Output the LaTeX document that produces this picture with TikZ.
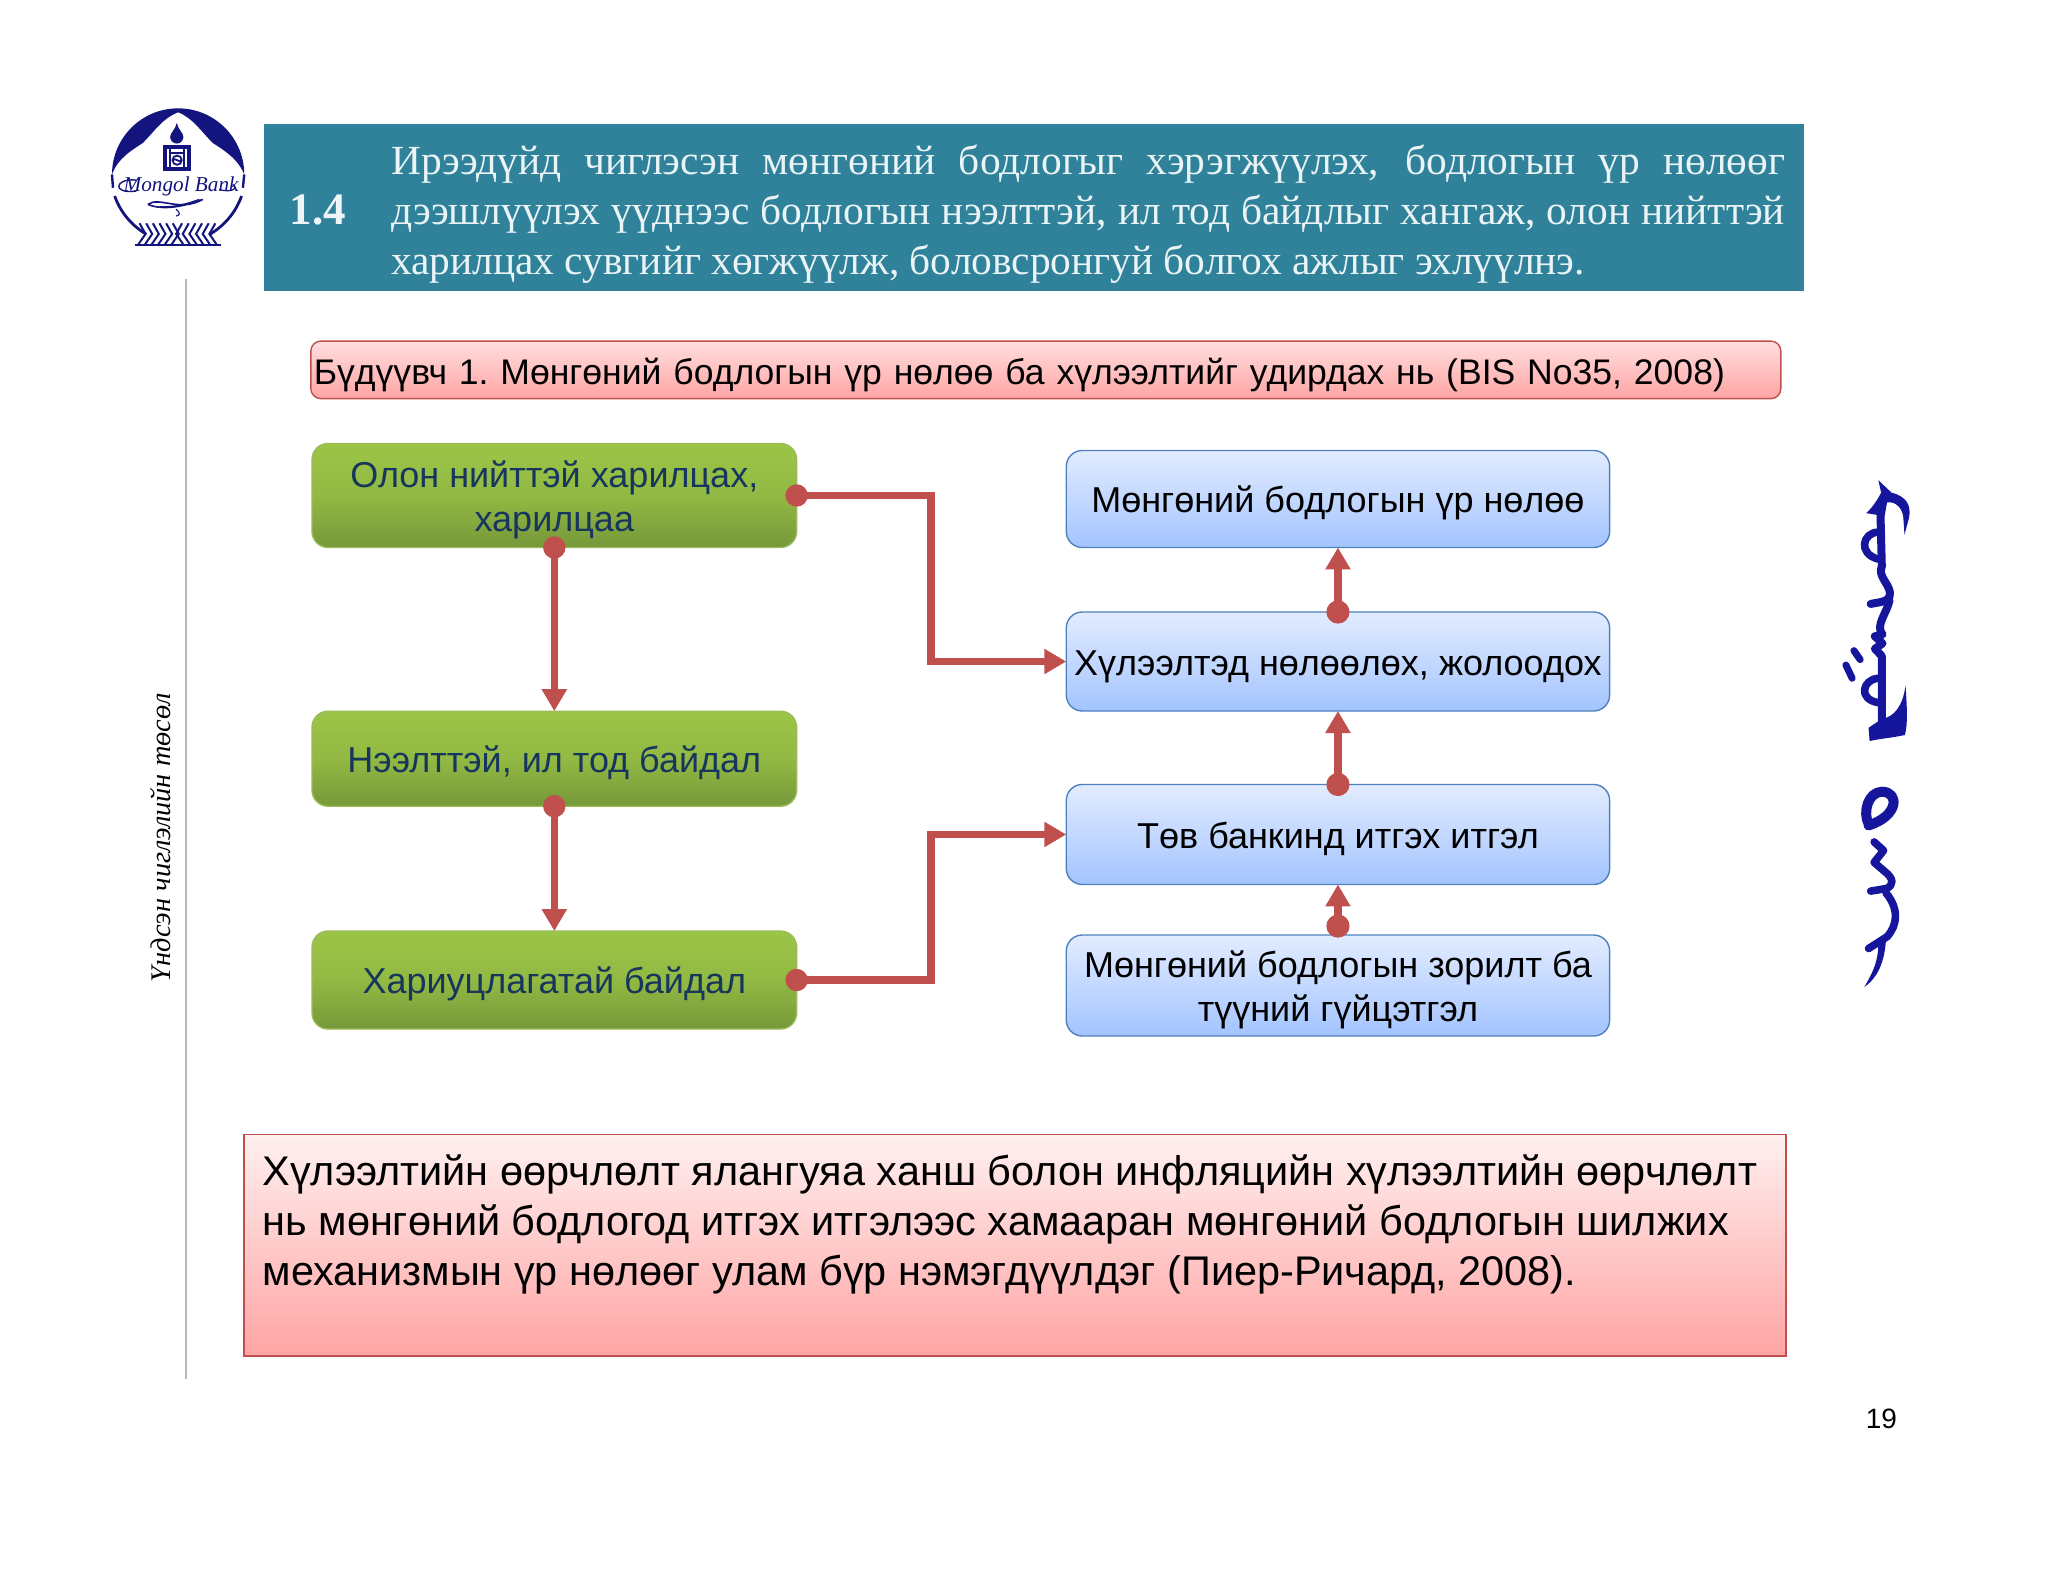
\documentclass[tikz,border=0pt]{standalone}
\usepackage{fontspec}
\setmainfont{Liberation Serif}
\newfontfamily\sansf{Liberation Sans}
\usetikzlibrary{arrows.meta,calc}
\definecolor{teal1}{HTML}{2F8299}
\definecolor{redl}{HTML}{C0504D}
\definecolor{navy1}{HTML}{14147E}
\definecolor{mscript}{HTML}{16169C}
\definecolor{gtext}{HTML}{17365D}
\definecolor{gtop}{HTML}{9BC547}
\definecolor{gmid}{HTML}{92B943}
\definecolor{gbot}{HTML}{76983A}
\definecolor{gline}{HTML}{9BBB59}
\definecolor{bline}{HTML}{4F81BD}
\definecolor{btop}{HTML}{E2ECFF}
\definecolor{bbot}{HTML}{A3C4FF}
\definecolor{ptop}{HTML}{FFF0F0}
\definecolor{ctop}{HTML}{FFDEDE}
\definecolor{pbot}{HTML}{FFA4A4}
\newcommand\twolinetext[3]{\raisebox{-2.4pt}[\height][\depth]{\parbox{#1}{\centering #2\\#3}}}
\tikzset{
  boxtext/.style={font=\sansf\fontsize{18}{22}\selectfont},
  oneline/.style={execute at begin node={\rule{0pt}{17.5pt}}},
  greenbox/.style={draw=gline,line width=.7pt,rounded corners=8pt,top color=gtop,bottom color=gbot,middle color=gmid,minimum width=242.3pt,align=center,boxtext,text=gtext,inner sep=0pt,outer sep=0pt},
  bluebox/.style={draw=bline,line width=.7pt,rounded corners=8pt,top color=btop,bottom color=bbot,minimum width=271.7pt,align=center,boxtext,text=black,inner sep=0pt,outer sep=0pt},
  link/.style={draw=redl,line width=3.7pt,-{Triangle[length=11pt,width=12pt]},fill=none},
  dot/.style={fill=redl},
  mstroke/.style={draw=mscript,line join=round,line cap=round,fill=none},
}
\begin{document}
\begin{tikzpicture}[x=0.4985pt,y=-0.4985pt]
\useasboundingbox (0,0) rectangle (2054.2,1586.8);
% banner
\fill[teal1] (265,124) rectangle (1809,292);
\node[anchor=center,inner sep=0pt,text=white!92!teal1,font=\bfseries\fontsize{22.5}{25}\selectfont] (num) at (319,211) {1.4};
\node[anchor=west,inner sep=0pt,text width=697pt,align=justify,text=white!90!teal1,font=\fontsize{20.7}{25}\selectfont] (head) at (392,214.5) {Ирээдүйд чиглэсэн мөнгөний бодлогыг хэрэгжүүлэх, бодлогын үр нөлөөг\linebreak дээшлүүлэх үүднээс бодлогын нээлттэй, ил тод байдлыг хангаж, олон нийттэй\linebreak харилцах сувгийг хөгжүүлж, боловсронгуй болгох ажлыг эхлүүлнэ.};
% side rule and text
\draw[gray!55,line width=1pt] (187,280) -- (187,1383);
\node[rotate=90,inner sep=0pt,font=\itshape\fontsize{14.2}{16}\selectfont] (side) at (161,840) {Үндсэн чиглэлийн төсөл};
% caption
\node[draw=redl,line width=.7pt,rounded corners=5pt,top color=ctop,bottom color=pbot,minimum width=735pt,minimum height=28.8pt,text width=732pt,inner xsep=1.5pt,inner ysep=0pt,outer sep=0pt,align=left,font=\sansf\fontsize{17.78}{22}\selectfont,execute at begin node={\rule{0pt}{18.2pt}\frenchspacing}] (cap) at (1049,371) {Бүдүүвч 1. Мөнгөний бодлогын үр нөлөө ба хүлээлтийг удирдах нь (BIS No35, 2008)};
% green
\node[greenbox,minimum height=52pt] (g1) at (556,497) {\twolinetext{238pt}{Олон нийттэй харилцах,}{харилцаа}};
\node[greenbox,oneline,minimum height=47.5pt] (g2) at (556,761) {Нээлттэй, ил тод байдал};
\node[greenbox,oneline,minimum height=49pt] (g3) at (556,983) {Хариуцлагатай байдал};
% blue
\node[bluebox,oneline,minimum height=48.5pt] (b1) at (1342,500.5) {Мөнгөний бодлогын үр нөлөө};
\node[bluebox,oneline,minimum height=49.5pt] (b2) at (1342,663.5) {Хүлээлтэд нөлөөлөх, жолоодох};
\node[bluebox,oneline,minimum height=50pt] (b3) at (1342,837) {Төв банкинд итгэх итгэл};
\node[bluebox,minimum height=50.5pt] (b4) at (1342,988.5) {\twolinetext{268pt}{Мөнгөний бодлогын зорилт ба}{түүний гүйцэтгэл}};
% connectors
\coordinate (bendA) at (934,600);
\coordinate (bendB) at (934,900);
\draw[link] (g1.south) -- (g2.north);
\draw[link] (g2.south) -- (g3.north);
\draw[link] (g1.east) -- (g1.east -| bendA) |- (b2.west);
\draw[link] (g3.east) -- (g3.east -| bendB) |- (b3.west);
\draw[link] (b2.north) -- (b1.south);
\draw[link] (b3.north) -- (b2.south);
\coordinate (b4top) at ($(b4.north)+(0,-9)$);
\draw[link] (b4top) -- (b3.south);
\foreach \p in {g1.south,g2.south,g1.east,g3.east}{\fill[dot] (\p) circle (5.6pt);}
\foreach \p in {b2.north,b3.north,b4top}{\fill[dot] (\p) circle (5.8pt);}
% bottom box
\node[draw=redl,line width=.8pt,rectangle,top color=ptop,bottom color=pbot,minimum width=771pt,minimum height=110.7pt,inner sep=0pt,outer sep=0pt] (note) at (1018,1249) {};
\node[anchor=north west,inner sep=0pt,align=left,font=\sansf\fontsize{20.72}{25}\selectfont] (notetext) at (263,1158) {Хүлээлтийн өөрчлөлт ялангуяа ханш болон инфляцийн хүлээлтийн өөрчлөлт\\нь мөнгөний бодлогод итгэх итгэлээс хамааран мөнгөний бодлогын шилжих\\механизмын үр нөлөөг улам бүр нэмэгдүүлдэг (Пиер-Ричард, 2008).};
\node[inner sep=0pt,font=\sansf\fontsize{14}{16}\selectfont] (page) at (1887,1423) {19};
% logo
\begin{scope}[shift={(80,90)},xscale=.3333,yscale=.3333]
\fill[navy1] (97,255) arc[start angle=180,end angle=360,radius=199] .. controls (475,205) and (430,180) .. (400,160) .. controls (365,125) and (340,85) .. (296,68) .. controls (250,85) and (225,125) .. (190,160) .. controls (160,180) and (115,205) .. (97,255) -- cycle;
\draw[navy1,line width=1.4pt] (105,320) .. controls (125,375) and (160,410) .. (200,435);
\draw[navy1,line width=1.4pt] (487,320) .. controls (467,375) and (432,410) .. (392,435);
\draw[navy1,line width=1.2pt] (97,255) -- (100,295);
\draw[navy1,line width=1.2pt] (495,255) -- (491,295);
% emblem
\fill[navy1] (292,100) .. controls (296,120) and (312,130) .. (312,142) arc[start angle=0,end angle=180,radius=20] .. controls (272,130) and (288,120) .. (292,100) -- cycle;
\fill[navy1] (252,165) rectangle (335,245);
\fill[white] (264,178) rectangle (270,232);
\fill[white] (317,178) rectangle (323,232);
\fill[white] (276,178) rectangle (311,232);
\fill[navy1] (276,186) rectangle (311,192);
\draw[navy1,line width=.9pt] (293,212) ellipse (14 and 14);
\draw[navy1,line width=.9pt] (280,212) .. controls (288,202) and (298,222) .. (306,212);
% bank name with flourish
\node[inner sep=0pt,text=navy1,font=\itshape\fontsize{10.6}{12}\selectfont] (logotext) at (305,290) {Mongol Bank};
\draw[navy1,line width=.7pt] (170,272) .. controls (105,265) and (95,315) .. (170,305);
\draw[navy1,line width=.6pt] (420,300) .. controls (450,310) and (480,300) .. (460,285);
\draw[navy1,line width=.8pt] (205,345) .. controls (240,320) and (300,370) .. (370,330) .. controls (320,350) and (250,365) .. (205,345);
\draw[navy1,line width=.6pt] (240,352) .. controls (290,355) and (330,340) .. (360,330);
\draw[navy1,line width=.6pt] (290,360) .. controls (305,370) and (300,380) .. (290,380);
% wheat base
\foreach \a in {180,200,220,240,260,280}{\draw[navy1,line width=1pt] (\a,402) -- (\a+18,434) -- (\a-4,466);}
\foreach \a in {308,328,348,368,388,408}{\draw[navy1,line width=1pt] (\a,402) -- (\a-18,434) -- (\a+4,466);}
\draw[navy1,line width=1pt] (165,467) -- (425,467);
\end{scope}
% vertical script
\begin{scope}[shift={(1800,460)},xscale=.35,yscale=.36]
\fill[mscript] (240,60) -- (278,95) .. controls (320,105) and (335,130) .. (328,165) -- (315,212) -- (312,170) .. controls (312,140) and (290,118) .. (265,122) -- (258,160) -- (205,152) .. controls (225,135) and (240,110) .. (248,95) -- cycle;
\draw[mstroke,line width=4pt] (246,150) -- (250,300);
\draw[mstroke,line width=3.8pt] (240,205) .. controls (195,205) and (180,265) .. (240,280);
\draw[mstroke,line width=4pt] (250,300) .. controls (235,330) and (282,355) .. (272,385) .. controls (265,400) and (240,400) .. (218,405);
\draw[mstroke,line width=4pt] (272,395) .. controls (265,430) and (230,465) .. (252,490) -- (230,495) -- (252,515) -- (230,530) -- (250,550) -- (250,730);
\draw[mstroke,line width=3.8pt] (240,612) .. controls (195,615) and (180,670) .. (240,680);
\fill[mscript] (250,725) .. controls (285,720) and (310,690) .. (318,632) .. controls (322,690) and (325,740) .. (316,770) .. controls (280,778) and (245,780) .. (215,787) -- (212,750) -- cycle;
\draw[mstroke,line width=3.5pt] (170,535) -- (188,560);
\draw[mstroke,line width=3.5pt] (147,575) -- (165,612);
\draw[mstroke,line width=5pt] (212,1018) .. controls (195,985) and (210,930) .. (250,928) .. controls (300,928) and (300,995) .. (212,1022);
\draw[mstroke,line width=3.8pt] (228,1068) -- (255,1092) -- (228,1125) -- (258,1150) .. controls (285,1170) and (285,1190) .. (262,1198) -- (218,1205);
\draw[mstroke,line width=3.8pt] (262,1210) .. controls (300,1255) and (295,1300) .. (265,1332) -- (212,1365);
\fill[mscript] (240,1350) -- (262,1340) .. controls (258,1400) and (240,1445) .. (200,1472) .. controls (225,1430) and (240,1400) .. (240,1350) -- cycle;
\end{scope}
\end{tikzpicture}
\end{document}
